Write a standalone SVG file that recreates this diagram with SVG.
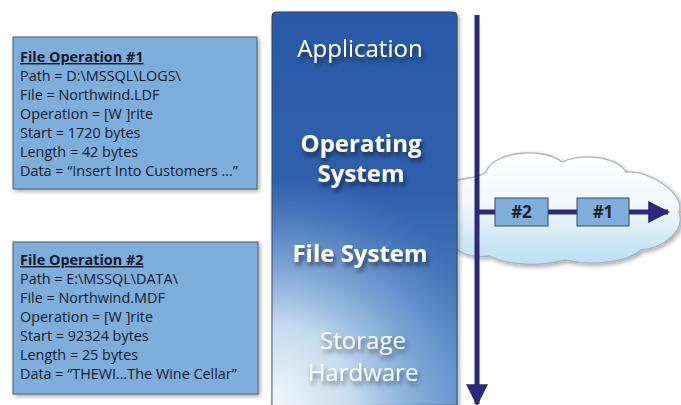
<svg xmlns="http://www.w3.org/2000/svg" width="681" height="405" viewBox="0 0 681 405">
  <style>
    .op { fill: #7eaedc; stroke: #4d5b6e; stroke-width: 1; }
    .optxt { font-family: "Open Sans", "Liberation Sans", sans-serif; font-size: 14.4px; fill: #15192a; }
    .optitle { font-weight: bold; text-decoration: underline; }
    .layer { font-family: "Open Sans", "Liberation Sans", sans-serif; font-size: 24px; fill: #ffffff; text-anchor: middle; }
    .b { font-weight: bold; }
    .pkt { fill: #7eaedc; stroke: #3d4a5c; stroke-width: 1; }
    .pkttxt { font-family: "Open Sans", "Liberation Sans", sans-serif; font-size: 17px; font-weight: bold; fill: #1e1e2a; text-anchor: middle; }
    .flow { stroke: #2b2a7a; stroke-width: 5; fill: none; }
  </style>
  <defs>
    <linearGradient id="panelGrad" x1="0" y1="0" x2="0" y2="1">
      <stop offset="0" stop-color="#2b5aa8"/>
      <stop offset="0.45" stop-color="#2f60ad"/>
      <stop offset="1" stop-color="#5c8fcb"/>
    </linearGradient>
    <radialGradient id="panelGlow" gradientUnits="userSpaceOnUse" cx="272" cy="405" r="230" fx="272" fy="405">
      <stop offset="0" stop-color="#f2f8fc" stop-opacity="1"/>
      <stop offset="0.35" stop-color="#d2e5f4" stop-opacity="0.9"/>
      <stop offset="0.7" stop-color="#9cc0e4" stop-opacity="0.45"/>
      <stop offset="1" stop-color="#6d9ad2" stop-opacity="0"/>
    </radialGradient>
    <linearGradient id="cloudGrad" x1="0" y1="0" x2="0" y2="1">
      <stop offset="0" stop-color="#ffffff"/>
      <stop offset="0.45" stop-color="#f4f8fb"/>
      <stop offset="1" stop-color="#b9e0f2"/>
    </linearGradient>
    <filter id="shadow" x="-10%" y="-10%" width="125%" height="125%">
      <feGaussianBlur in="SourceAlpha" stdDeviation="2"/>
      <feOffset dx="2" dy="2" result="o"/>
      <feComponentTransfer><feFuncA type="linear" slope="0.35"/></feComponentTransfer>
      <feMerge><feMergeNode/><feMergeNode in="SourceGraphic"/></feMerge>
    </filter>
    <filter id="txtShadow" x="-20%" y="-40%" width="140%" height="200%">
      <feGaussianBlur in="SourceAlpha" stdDeviation="2.5"/>
      <feOffset dx="2" dy="4" result="o"/>
      <feComponentTransfer><feFuncA type="linear" slope="0.55"/></feComponentTransfer>
      <feMerge><feMergeNode/><feMergeNode in="SourceGraphic"/></feMerge>
    </filter>
    <marker id="arrow" viewBox="0 0 10 10" refX="9" refY="5" markerWidth="4.4" markerHeight="4.4" markerUnits="strokeWidth" orient="auto">
      <path d="M0,0 L10,5 L0,10 Z" fill="#2b2a7a"/>
    </marker>
  </defs>

  <rect width="681" height="405" fill="#ffffff"/>

  <!-- cloud -->
  <g id="cloud" filter="url(#shadow)">
    <path d="M 452 182 C 462 177, 476 180, 486 172 C 492 152, 542 146, 562 162 C 582 153, 616 156, 626 172 C 652 170, 686 196, 679 212 C 686 232, 662 248, 641 250 C 626 263, 590 266, 565 260 C 540 267, 504 265, 490 256 C 470 259, 452 251, 452 240 Z" fill="url(#cloudGrad)" stroke="#aeb3ba" stroke-width="1.3"/>
  </g>

  <!-- stack panel -->
  <g id="stack" filter="url(#shadow)">
    <path d="M 272 405 L 272 16 Q 272 12 276 12 L 453 12 Q 457 12 457 16 L 457 405 Z" fill="url(#panelGrad)" stroke="#3a3f4a" stroke-width="1"/>
    <path d="M 272.5 405 L 272.5 16 L 456.5 16 L 456.5 405 Z" fill="url(#panelGlow)"/>
  </g>

  <g id="application"><text class="layer" x="360" y="57" filter="url(#txtShadow)">Application</text></g>
  <g id="operating-system">
    <text class="layer b" x="361" y="152" filter="url(#txtShadow)">Operating</text>
    <text class="layer b" x="361" y="182" filter="url(#txtShadow)">System</text>
  </g>
  <g id="file-system"><text class="layer b" x="360" y="262" filter="url(#txtShadow)">File System</text></g>
  <g id="storage-hardware">
    <text class="layer" x="363" y="349" fill-opacity="0.9" filter="url(#txtShadow)">Storage</text>
    <text class="layer" x="363" y="381" fill-opacity="0.9" filter="url(#txtShadow)">Hardware</text>
  </g>

  <!-- connectors -->
  <g id="connectors">
    <line class="flow" x1="477" y1="15" x2="477" y2="404" marker-end="url(#arrow)"/>
    <line class="flow" x1="477" y1="212" x2="668" y2="212" marker-end="url(#arrow)"/>
  </g>

  <!-- packets -->
  <g id="packet2">
    <rect class="pkt" x="495" y="198" width="53" height="28"/>
    <text class="pkttxt" x="521.5" y="218">#2</text>
  </g>
  <g id="packet1">
    <rect class="pkt" x="577" y="198" width="52" height="28"/>
    <text class="pkttxt" x="603" y="218">#1</text>
  </g>

  <!-- file operation 1 -->
  <g id="file-op-1">
    <rect class="op" x="13" y="37" width="244" height="152" filter="url(#shadow)"/>
    <text class="optxt optitle" x="20" y="62">File Operation #1</text>
    <text class="optxt" x="20" y="81">Path = D:\MSSQL\LOGS\</text>
    <text class="optxt" x="20" y="100">File = Northwind.LDF</text>
    <text class="optxt" x="20" y="119">Operation = [W ]rite</text>
    <text class="optxt" x="20" y="138">Start = 1720 bytes</text>
    <text class="optxt" x="20" y="157">Length = 42 bytes</text>
    <text class="optxt" x="20" y="176">Data = “Insert Into Customers …”</text>
  </g>

  <!-- file operation 2 -->
  <g id="file-op-2">
    <rect class="op" x="13" y="242" width="245" height="152" filter="url(#shadow)"/>
    <text class="optxt optitle" x="20" y="265">File Operation #2</text>
    <text class="optxt" x="20" y="284">Path = E:\MSSQL\DATA\</text>
    <text class="optxt" x="20" y="303">File = Northwind.MDF</text>
    <text class="optxt" x="20" y="322">Operation = [W ]rite</text>
    <text class="optxt" x="20" y="341">Start = 92324 bytes</text>
    <text class="optxt" x="20" y="360">Length = 25 bytes</text>
    <text class="optxt" x="20" y="379">Data = “THEWI…The Wine Cellar”</text>
  </g>
</svg>
